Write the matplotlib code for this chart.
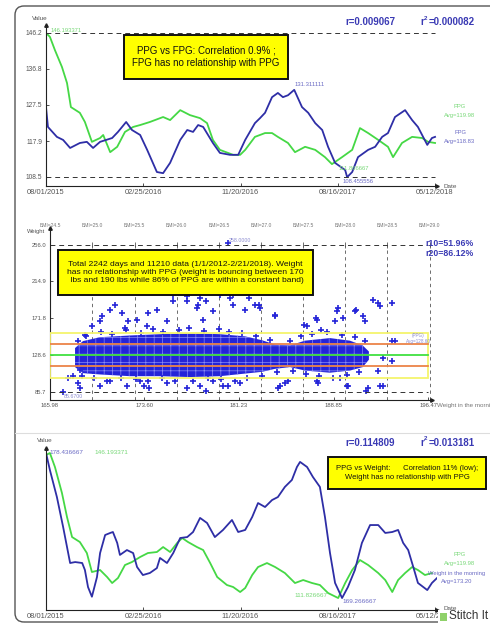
import matplotlib
matplotlib.use("Agg")
import numpy as np
import matplotlib.pyplot as plt
from matplotlib.patches import FancyBboxPatch, Rectangle

plt.rcParams['font.family'] = ['Liberation Sans', 'DejaVu Sans']
plt.rcParams['hatch.linewidth'] = 0.5

# ---------------- data ----------------
date_labels = ["08/01/2015", "02/25/2016", "11/20/2016", "08/16/2017", "05/12/2018"]
date_pos = [0, 250, 500, 750, 1000]  # day index of the date ticks

# panel 1 : PPG (green) and FPG (blue), moving averages
ppg1_day = [0, 10, 23, 41, 54, 64, 87, 100, 118, 139, 147, 165, 183, 203, 224, 242, 267, 301, 319, 345,
            370, 396, 414, 429, 447, 481, 499, 512, 537, 563, 581, 596, 622, 640, 666, 692, 717, 735, 761, 787,
            807, 828, 854, 879, 892, 915, 941, 967, 982, 1000]
ppg1 = [146.193371, 145.2, 141.7, 137.3, 133.1, 126.8, 125.3, 122.9, 117.7, 118.7, 119.5, 115.0, 116.4, 120.3,
        121.6, 122.1, 122.9, 124.2, 123.4, 126.0, 124.7, 123.9, 122.6, 118.2, 115.6, 114.3, 114.3, 115.6, 119.0,
        120.0, 120.0, 119.0, 117.4, 115.0, 116.4, 115.6, 113.7, 111.866667, 113.7, 115.6, 121.3, 120.0, 118.2,
        116.4, 113.7, 117.4, 119.0, 118.7, 117.7, 117.4]
fpg_day = [0, 5, 28, 44, 62, 87, 105, 121, 139, 170, 185, 206, 221, 242, 260, 285, 301, 319, 345, 363,
           378, 391, 404, 429, 447, 473, 494, 512, 537, 550, 563, 581, 596, 609, 622, 638, 658, 674, 692, 710,
           725, 743, 769, 774, 787, 802, 828, 846, 864, 879, 897, 923, 941, 956, 980, 992, 1000]
fpg = [126.8, 121.6, 119.0, 118.2, 116.1, 117.4, 117.7, 116.1, 117.7, 118.7, 120.3, 122.9, 120.8, 119.5, 115.6,
       109.8, 109.5, 112.2, 118.2, 120.8, 120.3, 122.1, 121.6, 117.4, 114.8, 114.3, 114.3, 118.2, 122.6, 123.9,
       125.3, 129.4, 130.5, 129.4, 129.9, 131.311111, 126.8, 125.3, 122.6, 120.8, 116.4, 112.2, 110.3, 108.455556,
       109.8, 113.7, 115.6, 116.4, 119.0, 120.0, 124.2, 126.0, 123.4, 121.6, 116.9, 118.7, 119.0]
p1_ticks = [108.5, 117.9, 127.35, 136.8, 146.2]
p1_tick_labels = ["108.5", "117.9", "127.5", "136.8", "146.2"]

# panel 2 : PPG vs weight scatter
w_ticks = [165.98, 173.60, 181.23, 188.85, 196.47]
w_tick_labels = ["165.98", "173.60", "181.23", "188.85", "196.47"]
v2_ticks = [85.7, 128.6, 171.8, 214.9, 256.0]
v2_tick_labels = ["85.7", "128.6", "171.8", "214.9", "256.0"]
bmi_labels = ["BMI=24.5", "BMI=25.0", "BMI=25.5", "BMI=26.0", "BMI=26.5", "BMI=27.0",
              "BMI=27.5", "BMI=28.0", "BMI=28.5", "BMI=29.0"]
bmi_weight = [166.0, 169.4, 172.8, 176.2, 179.6, 183.0, 186.4, 189.8, 193.2, 196.6]
band_levels = [102.9, 115.7, 128.6, 141.5, 154.3]  # -20%, -10%, avg, +10%, +20%
# dense core of the cloud (low / high edge per weight)
core_w = [168.0, 168.64, 170.01, 172.43, 174.85, 177.27, 179.69, 181.71, 183.08, 184.13, 185.34,
          186.54, 188.56, 190.17, 191.2, 191.7]
core_hi = [137.0, 145.0, 149.5, 151.5, 153.0, 154.0, 153.0, 150.5, 146.0, 141.0, 140.0, 145.5, 148.5,
           145.5, 140.0, 133.0]
core_lo = [115.0, 108.0, 106.5, 104.5, 104.5, 103.5, 104.5, 107.5, 109.5, 113.0, 115.0, 111.0, 108.5,
           111.0, 115.0, 123.5]
# points along the ragged edge of the core
edge_w = [168.9, 170.1, 171.0, 172.1, 173.3, 174.3, 175.1, 176.4, 177.2, 178.4, 179.6, 180.4, 181.5,
          182.6, 183.7, 185.3, 186.2, 187.1, 188.3, 189.5, 190.6, 191.4,
          168.6, 169.5, 170.6, 171.7, 172.9, 173.9, 175.0, 176.1, 177.5, 178.7, 179.8, 180.9, 181.9,
          183.1, 184.3, 185.6, 186.6, 187.7, 188.8, 189.9, 190.9]
edge_v = [150.6, 155.2, 153.0, 157.5, 154.1, 158.7, 155.2, 157.5, 160.0, 156.4, 158.7, 155.2, 154.1,
          150.6, 146.0, 144.9, 150.6, 153.0, 155.2, 151.8, 149.5, 144.9,
          104.2, 101.9, 99.5, 102.9, 100.7, 98.4, 101.9, 99.5, 98.4, 101.9, 100.7, 98.4, 102.9,
          104.2, 108.8, 110.0, 106.5, 104.2, 102.9, 105.4, 108.8]
# scattered points outside the core
out_w = [167.0, 168.2, 168.2, 168.8, 169.4, 170.2, 171.2, 171.8, 172.0, 173.0,
         173.8, 174.6, 175.4, 175.9, 177.0, 177.8, 178.6, 179.1, 179.7, 180.5,
         180.7, 181.3, 181.7, 177.0, 178.3, 167.4, 168.4, 170.0, 170.8, 172.2,
         173.2, 174.0, 175.4, 177.0, 178.1, 179.1, 180.3, 181.3, 180.3, 175.9,
         178.1, 179.5, 180.7, 182.0, 182.8, 184.1, 186.5, 187.5, 189.2, 189.6,
         190.6, 191.2, 192.0, 192.4, 192.6, 193.6, 187.8, 189.0, 184.5, 185.2,
         187.5, 190.0, 191.6, 192.6, 189.4, 193.6, 192.8, 192.4, 182.5, 182.9,
         184.1, 186.7, 187.4, 189.1, 190.7, 191.4, 193.8, 193.6, 192.8, 191.5,
         189.9, 187.6, 184.9, 184.4, 170.8, 170.0, 172.3, 173.9, 168.4, 167.8,
         173.6, 178.6, 179.9, 177.9]
out_v = [85.67, 96.1, 144.9, 151.8, 162.3, 173.9, 186.7, 177.4, 160.0, 169.3,
         162.3, 180.9, 168.1, 191.3, 197.2, 183.2, 191.3, 179.7, 198.3, 194.8,
         186.7, 203.0, 180.9, 191.3, 169.3, 101.9, 90.3, 93.7, 99.5, 92.6,
         98.4, 90.3, 96.1, 90.3, 93.7, 99.5, 92.6, 96.1, 258.0, 198.3,
         194.8, 203.0, 198.3, 194.8, 186.7, 173.9, 163.5, 169.3, 183.2, 171.6,
         179.7, 173.9, 192.5, 189.0, 185.5, 189.0, 157.7, 168.1, 93.7, 99.5,
         98.4, 93.7, 90.3, 93.7, 101.9, 144.9, 125.1, 110.0, 186.7, 183.2,
         175.1, 162.3, 171.6, 179.7, 180.9, 168.1, 144.9, 121.6, 92.6, 87.9,
         92.6, 96.1, 96.1, 90.3, 180.9, 168.1, 168.1, 177.4, 111.2, 104.2,
         92.6, 87.9, 92.6, 186.7]

# panel 3 : PPG (green) and morning weight (blue)
wt_day = [0, 10, 28, 44, 62, 75, 93, 100, 108, 118, 131, 139, 152, 165, 172, 183, 190, 208, 224, 234,
          249, 267, 285, 293, 311, 327, 345, 363, 378, 396, 414, 434, 455, 478, 494, 512, 530, 545, 563, 581,
          596, 614, 632, 645, 653, 671, 686, 704, 717, 730, 743, 761, 776, 794, 812, 833, 854, 872, 890, 905,
          918, 931, 944, 956, 980, 992, 1005]
wt = [178.436667, 177.36, 175.65, 173.76, 171.48, 171.54, 171.48, 171.04, 169.96, 169.35, 170.59, 172.11,
      173.25, 173.38, 173.44, 172.75, 171.99, 172.30, 172.11, 171.23, 170.72, 170.85, 171.16, 171.80, 171.48,
      172.11, 173.06, 173.12, 173.44, 174.33, 174.01, 173.12, 173.57, 174.20, 173.44, 173.57, 174.39, 175.27,
      175.02, 175.46, 175.65, 176.29, 176.73, 177.55, 177.87, 177.55, 176.92, 176.29, 174.39, 172.11, 170.22,
      169.266667, 169.96, 171.04, 172.75, 173.88, 173.88, 173.38, 173.44, 173.57, 172.75, 172.30, 171.23,
      170.22, 169.77, 170.22, 170.53]
ppg3_day = [0, 10, 23, 41, 54, 67, 87, 105, 118, 139, 157, 170, 185, 203, 221, 242, 262, 285, 301, 319,
            337, 350, 365, 388, 404, 422, 440, 465, 481, 499, 512, 530, 545, 568, 589, 614, 640, 661, 684, 704,
            725, 751, 769, 787, 807, 828, 854, 872, 890, 905, 923, 941, 956, 974, 992]
ppg3 = [145.72, 146.193371, 142.87, 136.71, 131.02, 126.28, 125.10, 122.49, 117.99, 118.47, 116.81, 115.38,
        116.57, 119.65, 120.36, 121.55, 122.49, 122.73, 123.91, 122.73, 124.86, 126.05, 125.10, 123.91, 123.20,
        120.12, 116.81, 114.91, 114.44, 113.25, 114.20, 117.28, 119.17, 120.12, 119.17, 117.75, 115.38, 116.09,
        115.38, 114.91, 113.01, 111.826667, 115.38, 118.46, 120.83, 119.65, 117.75, 116.09, 113.25, 116.09,
        117.75, 119.17, 118.46, 117.28, 117.75]

GREEN = "#45d845"
BLUE = "#2e2ea6"
LGREEN = "#78d878"
LBLUE = "#6a6ac4"
RBLUE = "#3a3ab4"
SCAT = "#2424d8"

W, H = 490, 623
fig = plt.figure(figsize=(W / 100, H / 100), dpi=100)


def rect(x0, y0, x1, y1):
    return [x0 / W, 1 - y1 / H, (x1 - x0) / W, (y1 - y0) / H]


def ftext(x, y, s, **kw):
    kw.setdefault("va", "center")
    fig.text(x / W, 1 - y / H, s, **kw)


def axis_style(ax):
    for side in ("top", "right"):
        ax.spines[side].set_visible(False)
    for side in ("left", "bottom"):
        ax.spines[side].set_linewidth(0.8)
        ax.spines[side].set_color("#222222")
    ax.tick_params(direction="in", length=2.5, width=0.6, color="#333333",
                   labelcolor="#555555", pad=2.5)
    ax.plot(0, 1, "^", color="#222222", ms=2.5, transform=ax.transAxes, clip_on=False)
    ax.plot(1, 0, ">", color="#222222", ms=2.5, transform=ax.transAxes, clip_on=False)
    ax.patch.set_alpha(0)


def yellow_box(x0, y0, x1, y1, lines, size, ls=1.35):
    fig.patches.append(Rectangle((x0 / W, 1 - y1 / H), (x1 - x0) / W, (y1 - y0) / H,
                                 transform=fig.transFigure, facecolor="#ffff00",
                                 edgecolor="#111111", lw=1.4, zorder=5))
    ftext((x0 + x1) / 2, (y0 + y1) / 2, "\n".join(lines), ha="center", fontsize=size,
          linespacing=ls, zorder=6, color="#111111")


# screenshot frame
fig.patches.append(FancyBboxPatch((0.15, 0.01), 5.0, 6.16, boxstyle="round,pad=0,rounding_size=0.09",
                                  transform=fig.dpi_scale_trans, facecolor="none",
                                  edgecolor="#555555", lw=1.0))
fig.add_artist(plt.Line2D([15 / W, 1], [1 - 433 / H, 1 - 433 / H], color="#dddddd", lw=0.8))

# ---------------- panel 1 ----------------
ax1 = fig.add_axes(rect(46, 25, 437, 186))
axis_style(ax1)
ax1.plot(ppg1_day, ppg1, color=GREEN, lw=1.3)
ax1.plot(fpg_day, fpg, color=BLUE, lw=1.3)
ax1.plot([0, 1000], [146.2, 146.2], color="#333333", lw=0.7, ls=(0, (5, 4)))
ax1.plot([0, 1000], [108.5, 108.5], color="#333333", lw=0.7, ls=(0, (5, 4)))
ax1.set_xlim(0, 1005)
ax1.set_ylim(106.14, 148.29)
ax1.set_xticks(date_pos, date_labels, fontsize=5.4)
ax1.set_yticks(p1_ticks, p1_tick_labels, fontsize=4.8)

i = int(np.argmax(ppg1))
ax1.annotate(f"{ppg1[i]:.6f}", (ppg1_day[i], ppg1[i]), xytext=(3, 0), textcoords="offset points",
             fontsize=4.2, color=LGREEN, va="bottom", annotation_clip=False)
i = int(np.argmin(ppg1))
ax1.annotate(f"{ppg1[i]:.6f}", (ppg1_day[i], ppg1[i]), xytext=(5, -1), textcoords="offset points",
             fontsize=4.2, color=LGREEN, va="top")
i = int(np.argmax(fpg))
ax1.annotate(f"{fpg[i]:.6f}", (fpg_day[i], fpg[i]), xytext=(0, 2), textcoords="offset points",
             fontsize=4.2, color=LBLUE, va="bottom")
i = int(np.argmin(fpg))
ax1.annotate(f"{fpg[i]:.6f}", (fpg_day[i], fpg[i]), xytext=(-3, -1.5), textcoords="offset points",
             fontsize=4.2, color=LBLUE, va="top")

ftext(40, 18, "Value", fontsize=4.6, color="#555555", ha="center")
ftext(443, 186, "Date", fontsize=4.6, color="#555555")
ftext(345, 22, "r=0.009067", fontsize=7, color=RBLUE, weight="bold")
ftext(420, 22, "r", fontsize=7, color=RBLUE, weight="bold")
ftext(424, 18, "2", fontsize=4.5, color=RBLUE, weight="bold")
ftext(429, 22, "=0.000082", fontsize=7, color=RBLUE, weight="bold")
ftext(460, 107, "PPG", fontsize=4.2, color=LGREEN, ha="center")
ftext(460, 116, "Avg=119.98", fontsize=4.2, color=LGREEN, ha="center")
ftext(460, 132, "FPG", fontsize=4.2, color=LBLUE, ha="center")
ftext(460, 141, "Avg=118.83", fontsize=4.2, color=LBLUE, ha="center")
yellow_box(124, 35, 288, 79, ["PPG vs FPG: Correlation 0.9% ;", "FPG has no relationship with PPG"], 7.0)

# ---------------- panel 2 ----------------
ax2 = fig.add_axes(rect(50, 228, 432, 400))
axis_style(ax2)
ax2.set_xlim(165.98, 196.79)
ax2.set_ylim(77.0, 275.6)
ax2.fill_between(core_w, core_lo, core_hi, facecolor=SCAT, edgecolor="#8a8af2", hatch="++",
                 lw=0, zorder=1.5)
ax2.plot(edge_w, edge_v, "+", color=SCAT, ms=5, mew=1.2, zorder=2)
ax2.plot(out_w, out_v, "+", color=SCAT, ms=5, mew=1.2, zorder=2)
for bw in bmi_weight[1:]:
    ax2.plot([bw, bw], [77.0, 256.0], color="#555555", lw=0.6, ls=(0, (4, 4)), zorder=1)
ax2.plot(bmi_weight, [256.0] * len(bmi_weight), "|", color="#555555", ms=4, mew=0.6)
ax2.plot([165.98, 196.47], [256.0, 256.0], color="#333333", lw=0.7, ls=(0, (5, 4)))
ax2.plot([165.98, 196.47], [85.7, 85.7], color="#333333", lw=0.7, ls=(0, (5, 4)))
ax2.add_patch(Rectangle((165.98, band_levels[0]), 196.47 - 165.98, band_levels[4] - band_levels[0],
                        facecolor="none", edgecolor="#f4f46c", lw=1.3, zorder=3))
ax2.plot([165.98, 196.47], [band_levels[1]] * 2, color="#ec8448", lw=1.3, zorder=3)
ax2.plot([165.98, 196.47], [band_levels[3]] * 2, color="#ec8448", lw=1.3, zorder=3)
ax2.plot([165.98, 196.47], [band_levels[2]] * 2, color="#40e040", lw=1.3, zorder=3)
ax2.set_xticks(w_ticks, w_tick_labels, fontsize=4.2)
ax2.set_yticks(v2_ticks, v2_tick_labels, fontsize=4.2)
for bw, bl in zip(bmi_weight, bmi_labels):
    ax2.text(bw, 1.0, bl, transform=ax2.get_xaxis_transform(), fontsize=3.6, color="#777777",
             ha="center", va="bottom", clip_on=False)
i = int(np.argmax(out_v))
ax2.annotate(f"{out_v[i]:.4f}", (out_w[i], out_v[i]), xytext=(1, 0), textcoords="offset points",
             fontsize=3.8, color="#8a8ad0", va="bottom")
i = int(np.argmin(out_v))
ax2.annotate(f"{out_v[i]:.4f}", (out_w[i], out_v[i]), xytext=(1, -1), textcoords="offset points",
             fontsize=3.8, color="#8a8ad0", va="top")
ftext(36, 232, "Weight", fontsize=4.2, color="#555555", ha="center")
ftext(418, 335, "(PPG)", fontsize=3.3, color="#8a8ad0", ha="center")
ftext(418, 341, "Avg=128.60", fontsize=3.3, color="#8a8ad0", ha="center")
ftext(437, 405, "Weight in the morning", fontsize=4.5, color="#777777")
ftext(425, 243, "r10=51.96%", fontsize=6.3, color=RBLUE, weight="bold")
ftext(425, 253, "r20=86.12%", fontsize=6.3, color=RBLUE, weight="bold")
yellow_box(58, 250, 313, 295,
           ["Total 2242 days and 11210 data (1/1/2012-2/21/2018). Weight",
            "has no relationship with PPG (weight is bouncing between 170",
            " lbs and 190 lbs while 86% of PPG are within a constant band)"], 6.1, ls=1.15)

# ---------------- panel 3 ----------------
ax3g = fig.add_axes(rect(46, 448, 437, 610))
ax3g.axis("off")
ax3g.plot(ppg3_day, ppg3, color=GREEN, lw=1.3)
ax3g.set_xlim(0, 1005)
ax3g.set_ylim(108.99, 147.38)
ax3 = fig.add_axes(rect(46, 448, 437, 610))
axis_style(ax3)
ax3.plot(wt_day, wt, color=BLUE, lw=1.3)
ax3.set_xlim(0, 1005)
ax3.set_ylim(168.51, 178.75)
ax3.set_xticks(date_pos, date_labels, fontsize=5.4)
ax3.set_yticks([])

i = int(np.argmax(wt))
ax3.annotate(f"{wt[i]:.6f}", (wt_day[i], wt[i]), xytext=(2.5, 0.5), textcoords="offset points",
             fontsize=4.6, color=LBLUE, va="center", annotation_clip=False)
i = int(np.argmin(wt))
ax3.annotate(f"{wt[i]:.6f}", (wt_day[i], wt[i]), xytext=(0, -1), textcoords="offset points",
             fontsize=4.6, color=LBLUE, va="top", annotation_clip=False)
i = int(np.argmax(ppg3))
ax3g.annotate(f"{ppg3[i]:.6f}", (ppg3_day[i], ppg3[i]), xytext=(32, 0.5), textcoords="offset points",
              fontsize=4.6, color=LGREEN, va="center", annotation_clip=False)
i = int(np.argmin(ppg3))
ax3g.annotate(f"{ppg3[i]:.6f}", (ppg3_day[i], ppg3[i]), xytext=(-8, 1.5), textcoords="offset points",
              fontsize=4.6, color=LGREEN, va="center", ha="right", annotation_clip=False)

ftext(45, 441, "Value", fontsize=4.6, color="#555555", ha="center")
ftext(443, 609, "Date", fontsize=4.6, color="#555555")
ftext(345, 443, "r=0.114809", fontsize=7, color=RBLUE, weight="bold")
ftext(420, 443, "r", fontsize=7, color=RBLUE, weight="bold")
ftext(424, 439, "2", fontsize=4.5, color=RBLUE, weight="bold")
ftext(429, 443, "=0.013181", fontsize=7, color=RBLUE, weight="bold")
ftext(460, 555, "PPG", fontsize=4.2, color=LGREEN, ha="center")
ftext(460, 564, "Avg=119.98", fontsize=4.2, color=LGREEN, ha="center")
ftext(457, 573, "Weight in the morning", fontsize=4.2, color=LBLUE, ha="center")
ftext(457, 582, "Avg=173.20", fontsize=4.2, color=LBLUE, ha="center")
yellow_box(328, 457, 486, 489, ["PPG vs Weight:      Correlation 11% (low);",
                                "Weight has no relationship with PPG"], 5.5)

# watermark of the stitching app
fig.patches.append(Rectangle((438 / W, 0), 52 / W, 13 / H, transform=fig.transFigure,
                             facecolor="white", edgecolor="none", zorder=7))
fig.patches.append(Rectangle((440 / W, 2 / H), 7 / W, 8 / H, transform=fig.transFigure,
                             facecolor="#8fd16a", edgecolor="none", zorder=8))
ftext(449, 616, "Stitch It", fontsize=8.5, color="#333333", zorder=9)

fig.savefig("out.png", dpi=100)
